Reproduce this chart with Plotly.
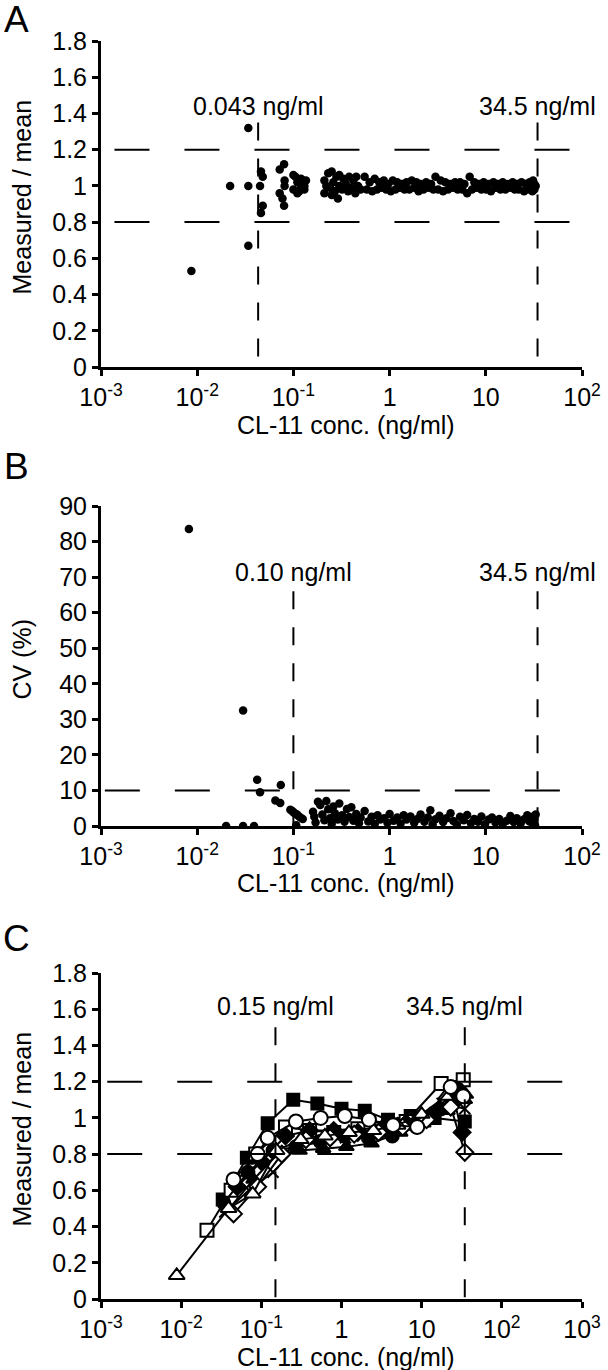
import math
import plotly.graph_objects as go

W, H = 608, 1370
FONT = "Liberation Sans, Arial, Helvetica, sans-serif"

# ---------------- data ----------------
# Panel A : measured / mean vs concentration
a_conc = [0.0087, 0.022, 0.034, 0.034, 0.034, 0.045, 0.046, 0.048, 0.048, 0.046,
          0.072, 0.080, 0.081, 0.072, 0.077, 0.080, 0.081,
          0.10, 0.10, 0.105, 0.11, 0.115, 0.12, 0.12, 0.125, 0.13, 0.135, 0.13, 0.11,
          0.21, 0.21, 0.22, 0.23, 0.24, 0.25, 0.25, 0.26, 0.27, 0.28, 0.29, 0.30,
          0.30, 0.32, 0.33, 0.35, 0.37, 0.38, 0.40, 0.42, 0.44, 0.45, 0.47, 0.50,
          0.55, 0.62, 0.70, 0.78, 0.87, 0.97, 1.08, 1.2, 1.35, 1.5, 1.7, 1.9,
          2.1, 2.4, 2.7, 3.0, 3.4, 3.8, 4.3, 4.8, 5.4, 6.0, 6.8, 7.6,
          8.5, 9.5, 10.7, 12, 13.4, 15, 17, 19, 21, 23.5, 26, 28.5,
          0.58, 0.66, 0.74, 0.83, 0.92, 1.03, 1.15, 1.28, 1.43, 1.6, 1.8, 2.0,
          2.25, 2.55, 2.85, 3.2, 3.6, 4.05, 4.55, 5.1, 5.7, 6.4, 7.2, 8.0,
          9.0, 10.1, 11.3, 12.7, 14.2, 16, 18, 20, 22, 25, 27, 29.5,
          30, 31, 32, 32, 31, 30.5, 33]
a_ratio = [0.53, 1.00, 1.32, 1.00, 0.67, 1.00, 1.08, 1.05, 0.89, 0.85,
           1.09, 1.12, 1.03, 0.96, 0.93, 0.89, 1.00,
           1.06, 0.98, 1.05, 1.02, 0.97, 1.04, 0.99, 1.03, 0.98, 1.03, 1.00, 0.96,
           1.03, 0.96, 1.00, 1.07, 0.99, 1.08, 0.95, 1.02, 0.97, 1.05, 0.93, 1.06,
           1.00, 0.98, 1.04, 1.01, 0.97, 1.05, 0.99, 1.03, 0.96, 1.05, 1.00, 0.98,
           1.05, 1.02, 1.04, 1.02, 1.03, 1.01, 1.03, 1.02, 1.01, 1.02, 1.03, 1.02,
           1.01, 1.02, 1.01, 1.05, 1.03, 1.02, 1.01, 1.02, 1.02, 1.01, 1.05, 1.02,
           1.01, 1.02, 1.01, 1.02, 1.01, 1.02, 1.01, 1.02, 1.01, 1.02, 1.01, 1.02,
           0.98, 0.97, 0.98, 0.99, 0.98, 0.97, 0.98, 0.99, 0.98, 0.98, 0.99, 0.97,
           0.98, 0.99, 0.98, 0.98, 0.97, 0.98, 0.99, 0.98, 0.98, 0.96, 0.98, 0.99,
           0.98, 0.98, 0.97, 0.99, 0.98, 0.98, 0.99, 0.98, 0.98, 0.97, 0.98, 0.99,
           1.02, 0.99, 1.01, 0.98, 1.03, 0.97, 1.00]

# Panel B : CV (%) vs concentration
b_conc = [0.0082, 0.030, 0.020, 0.030, 0.039, 0.042, 0.045, 0.065, 0.073, 0.074,
          0.093, 0.097, 0.10, 0.104, 0.108, 0.113, 0.118, 0.107, 0.125,
          0.16, 0.165, 0.17, 0.18, 0.19, 0.20, 0.21, 0.22, 0.23, 0.24, 0.25, 0.26,
          0.27, 0.29, 0.30, 0.32, 0.34, 0.36, 0.38, 0.40, 0.42, 0.45, 0.48, 0.50,
          0.55, 0.6, 0.65, 0.7, 0.75, 0.8, 0.88, 0.95, 1.0, 1.1, 1.2, 1.3, 1.4,
          1.5, 1.65, 1.8, 1.95, 2.1, 2.3, 2.5, 2.65, 2.8, 3.0, 3.3, 3.6, 3.9,
          4.3, 4.6, 5.0, 5.4, 5.9, 6.4, 7.0, 7.6, 8.3, 9.0, 9.8, 10.7, 11.6,
          12.6, 13.8, 15, 16.5, 18, 19.5, 21, 23, 25, 27, 28.5, 30, 31, 32, 33,
          30.5, 32.5]
b_cv = [83.5, 32.5, 0, 0, 0, 13, 9.5, 7.2, 6.5, 11.5,
        4.6, 4.2, 3.9, 3.5, 3.3, 2.8, 2.4, 0.2, 2.0,
        4.0, 2.6, 1.0, 6.8, 5.9, 3.2, 1.6, 7.0, 4.7, 2.2, 0.6, 5.5,
        3.6, 1.8, 6.3, 3.0, 1.2, 4.8, 2.5, 5.3, 1.5, 3.4, 0.8, 2.4,
        4.2, 1.3, 2.6, 0.6, 3.0, 1.8, 2.2, 0.9, 3.4, 1.5, 2.4, 0.7, 3.0,
        1.8, 2.7, 0.9, 2.0, 3.2, 1.2, 2.4, 4.4, 0.5, 1.9, 2.9, 1.1, 2.2,
        3.6, 1.4, 0.4, 2.6, 1.6, 3.1, 0.8, 2.0, 1.2, 2.7, 0.5, 1.8, 2.4,
        1.0, 2.0, 0.6, 1.5, 2.8, 1.1, 2.2, 0.7, 1.9, 3.0, 1.3, 2.5, 0.4, 1.8, 3.2,
        1.0, 0.2]

# Panel C : dilution series of individual samples (measured / mean)
c_fsq_x = [0.033, 0.066, 0.12, 0.25, 0.50, 1.0, 1.95, 3.8, 7.3, 14.5, 34.5]
c_fsq_y = [0.55, 0.78, 0.97, 1.10, 1.08, 1.05, 1.04, 0.99, 1.01, 1.00, 0.98]
c_osq_x = [0.021, 0.042, 0.085, 0.20, 0.40, 0.80, 1.6, 3.2, 6.4, 17.5, 33]
c_osq_y = [0.38, 0.60, 0.80, 0.95, 0.93, 0.92, 0.94, 0.94, 0.98, 1.19, 1.21]
c_oci_x = [0.045, 0.09, 0.12, 0.27, 0.55, 1.1, 2.2, 4.4, 8.8, 23, 33]
c_oci_y = [0.66, 0.80, 0.89, 0.98, 1.00, 1.01, 0.99, 0.96, 0.95, 1.17, 1.12]
c_fci_x = [0.034, 0.068, 0.14, 0.27, 0.54, 1.08, 2.16, 4.3, 8.6, 17.3, 28]
c_fci_y = [0.53, 0.70, 0.82, 0.84, 0.87, 0.90, 0.89, 0.90, 0.95, 1.05, 1.16]
c_ftr_x = [0.040, 0.08, 0.16, 0.30, 0.59, 1.15, 2.37, 5.4, 10.5, 21, 34.5]
c_ftr_y = [0.50, 0.66, 0.80, 0.82, 0.83, 0.84, 0.86, 0.92, 0.97, 1.04, 1.10]
c_otr_x = [0.0088, 0.039, 0.078, 0.155, 0.31, 0.62, 1.24, 2.5, 5.0, 10, 20, 35]
c_otr_y = [0.13, 0.50, 0.58, 0.82, 0.88, 0.90, 0.92, 0.93, 0.96, 1.02, 1.12, 1.13]
c_odi_x = [0.045, 0.09, 0.18, 0.36, 0.72, 1.44, 2.9, 5.8, 11.5, 23, 34.5]
c_odi_y = [0.47, 0.62, 0.80, 0.88, 0.89, 0.91, 0.92, 0.95, 0.99, 1.06, 0.81]
c_xcr_x = [0.035, 0.07, 0.14, 0.28, 0.56, 1.12, 2.24, 4.5, 9.0, 18, 34.5]
c_xcr_y = [0.48, 0.60, 0.70, 0.84, 0.87, 0.89, 0.91, 0.93, 0.98, 1.08, 1.05]
c_fdi_x = [0.05, 0.10, 0.20, 0.40, 0.80, 1.6, 3.2, 6.4, 12.8, 25.6, 32]
c_fdi_y = [0.62, 0.76, 0.90, 0.93, 0.93, 0.92, 0.94, 0.97, 1.01, 1.09, 0.92]

# reference limits
a_limits = [0.043, 34.5]
b_limits = [0.10, 34.5]
c_limits = [0.15, 34.5]
a_limit_text = ["0.043 ng/ml", "34.5 ng/ml"]
b_limit_text = ["0.10 ng/ml", "34.5 ng/ml"]
c_limit_text = ["0.15 ng/ml", "34.5 ng/ml"]
ratio_accept = [0.8, 1.2]
cv_accept = [10]

# tick labels
x_tickvals_ab = [0.001, 0.01, 0.1, 1, 10, 100]
x_ticktext_ab = ["10<sup>-3</sup>", "10<sup>-2</sup>", "10<sup>-1</sup>", "1", "10", "10<sup>2</sup>"]
x_tickvals_c = [0.001, 0.01, 0.1, 1, 10, 100, 1000]
x_ticktext_c = ["10<sup>-3</sup>", "10<sup>-2</sup>", "10<sup>-1</sup>", "1", "10",
                "10<sup>2</sup>", "10<sup>3</sup>"]
ratio_tickvals = [0, 0.2, 0.4, 0.6, 0.8, 1.0, 1.2, 1.4, 1.6, 1.8]
ratio_ticktext = ["0", "0.2", "0.4", "0.6", "0.8", "1", "1.2", "1.4", "1.6", "1.8"]
cv_tickvals = [0, 10, 20, 30, 40, 50, 60, 70, 80, 90]
cv_ticktext = ["0", "10", "20", "30", "40", "50", "60", "70", "80", "90"]

# ---------------- layout helpers ----------------
def dom_x(l, r):
    return [l / W, r / W]

def dom_y(top, bottom):
    return [1 - bottom / H, 1 - top / H]

XL, XR = 101, 582
panels = {
    "A": dict(top=41, bottom=367),
    "B": dict(top=506, bottom=826),
    "C": dict(top=973, bottom=1299),
}

fig = go.Figure()

dot = dict(color="black", size=8.5)
fig.add_trace(go.Scatter(x=a_conc, y=a_ratio, mode="markers", marker=dot,
                         xaxis="x", yaxis="y", showlegend=False))
fig.add_trace(go.Scatter(x=b_conc, y=b_cv, mode="markers", marker=dot,
                         xaxis="x2", yaxis="y2", showlegend=False))

series = [
    (c_fsq_x, c_fsq_y, "square", "black", 12),
    (c_osq_x, c_osq_y, "square", "white", 13),
    (c_fci_x, c_fci_y, "circle", "black", 13),
    (c_ftr_x, c_ftr_y, "triangle-up", "black", 13),
    (c_xcr_x, c_xcr_y, "x-thin", "black", 11),
    (c_fdi_x, c_fdi_y, "diamond", "black", 13),
    (c_odi_x, c_odi_y, "diamond", "white", 13),
    (c_otr_x, c_otr_y, "triangle-up", "white", 14),
    (c_oci_x, c_oci_y, "circle", "white", 14),
]
for sx, sy, sym, fill, size in series:
    fig.add_trace(go.Scatter(
        x=sx, y=sy, mode="lines+markers",
        line=dict(color="black", width=2),
        marker=dict(symbol=sym, color=fill, size=size,
                    line=dict(color="black", width=2)),
        xaxis="x3", yaxis="y3", showlegend=False))

FS = 25
tickfont = dict(family=FONT, size=FS, color="black")
common_x = dict(type="log", showline=True, linecolor="black", linewidth=3,
                ticks="outside", ticklen=6, tickwidth=2.5, tickcolor="black",
                showgrid=False, zeroline=False, tickfont=tickfont, mirror=False,
                automargin=False)
common_y = dict(showline=True, linecolor="black", linewidth=3,
                ticks="outside", ticklen=6, tickwidth=2.5, tickcolor="black",
                showgrid=False, zeroline=False, tickfont=tickfont, mirror=False,
                automargin=False)

fig.update_layout(
    template="none",
    width=W, height=H, margin=dict(l=0, r=0, t=0, b=0, pad=0),
    paper_bgcolor="white", plot_bgcolor="white",
    font=dict(family=FONT, color="black"),
    xaxis=dict(common_x, domain=dom_x(XL, XR), anchor="y", range=[-3, 2],
               tickvals=x_tickvals_ab, ticktext=x_ticktext_ab),
    yaxis=dict(common_y, domain=dom_y(panels["A"]["top"], panels["A"]["bottom"]),
               anchor="x", range=[0, 1.8], tickvals=ratio_tickvals, ticktext=ratio_ticktext),
    xaxis2=dict(common_x, domain=dom_x(XL, XR), anchor="y2", range=[-3, 2],
                tickvals=x_tickvals_ab, ticktext=x_ticktext_ab),
    yaxis2=dict(common_y, domain=dom_y(panels["B"]["top"], panels["B"]["bottom"]),
                anchor="x2", range=[0, 90], tickvals=cv_tickvals, ticktext=cv_ticktext),
    xaxis3=dict(common_x, domain=dom_x(XL, XR), anchor="y3", range=[-3, 3],
                tickvals=x_tickvals_c, ticktext=x_ticktext_c),
    yaxis3=dict(common_y, domain=dom_y(panels["C"]["top"], panels["C"]["bottom"]),
                anchor="x3", range=[0, 1.8], tickvals=ratio_tickvals, ticktext=ratio_ticktext),
)

shapes = []
annotations = []
hdash = "35px,35px"
vdash = "18px,18px"

def add_panel_refs(xa, ya, limits, texts, accepts, hx0, hx1, vtop, label_y):
    for v in accepts:
        shapes.append(dict(type="line", xref=f"{xa} domain", x0=hx0, x1=hx1,
                           yref=ya, y0=v, y1=v,
                           line=dict(color="black", width=2, dash=hdash)))
    for lim, txt in zip(limits, texts):
        shapes.append(dict(type="line", xref=xa, x0=lim, x1=lim,
                           yref=ya, y0=vtop, y1=0,
                           line=dict(color="black", width=2, dash=vdash)))
        annotations.append(dict(x=math.log10(lim), y=label_y, xref=xa, yref=ya, text=txt,
                                showarrow=False, xanchor="center", yanchor="middle",
                                font=dict(family=FONT, size=FS, color="black")))

add_panel_refs("x", "y", a_limits, a_limit_text, ratio_accept, 0.028, 0.975, 1.35, 1.44)
add_panel_refs("x2", "y2", b_limits, b_limit_text, cv_accept, 0.008, 0.973, 66, 71.5)
add_panel_refs("x3", "y3", c_limits, c_limit_text, ratio_accept, 0.013, 0.975, 1.50, 1.62)

# axis titles
for xa, ya, ytitle in [("x", "y", "Measured / mean"), ("x2", "y2", "CV (%)"),
                       ("x3", "y3", "Measured / mean")]:
    annotations.append(dict(x=0.51, y=-0.178, xref=f"{xa} domain", yref=f"{ya} domain",
                            text="CL-11 conc. (ng/ml)", showarrow=False,
                            xanchor="center", yanchor="middle",
                            font=dict(family=FONT, size=FS, color="black")))
    annotations.append(dict(x=22 / W, y=0.52, xref="paper", yref=f"{ya} domain",
                            text=ytitle, textangle=-90, showarrow=False,
                            xanchor="center", yanchor="middle",
                            font=dict(family=FONT, size=FS, color="black")))

# panel letters
for letter, ypx in [("A", 19), ("B", 466), ("C", 938)]:
    annotations.append(dict(x=16 / W, y=1 - ypx / H, xref="paper", yref="paper",
                            text=letter, showarrow=False, xanchor="center",
                            yanchor="middle",
                            font=dict(family=FONT, size=37, color="black")))

fig.update_layout(shapes=shapes, annotations=annotations)
fig.write_html("out.html", config={"displayModeBar": False},
               post_script="document.body.style.margin='0';document.body.style.overflow='hidden';")
